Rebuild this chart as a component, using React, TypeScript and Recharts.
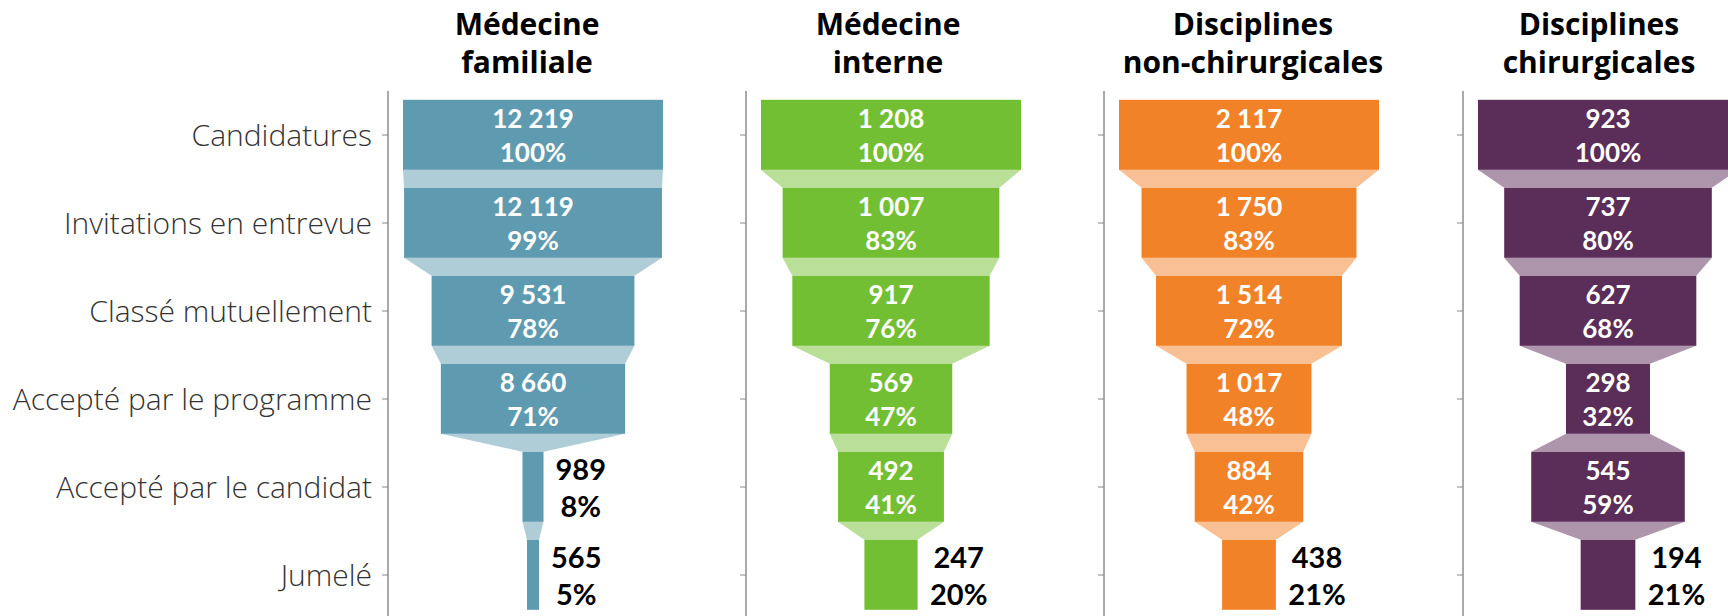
import React from 'react';
import { BarChart, Bar, XAxis, YAxis } from 'recharts';

const stages = [
  'Candidatures',
  'Invitations en entrevue',
  'Classé mutuellement',
  'Accepté par le programme',
  'Accepté par le candidat',
  'Jumelé',
];

const titles = [
  ['Médecine', 'familiale'],
  ['Médecine', 'interne'],
  ['Disciplines', 'non-chirurgicales'],
  ['Disciplines', 'chirurgicales'],
];

const familyMedicine = [12219, 12119, 9531, 8660, 989, 565];
const internalMedicine = [1208, 1007, 917, 569, 492, 247];
const nonSurgical = [2117, 1750, 1514, 1017, 884, 438];
const surgical = [923, 737, 627, 298, 545, 194];

const panelValues = [familyMedicine, internalMedicine, nonSurgical, surgical];
const panelColors = ['#5F9BB0', '#73BF34', '#F28227', '#5B2D59'];

// layout
const AXIS_X = [388, 746, 1104, 1463];
const TITLE_X = [527, 888, 1253, 1599];
const PLOT_TOP = 91;
const CHART_H = 620;
const BAND = (CHART_H - PLOT_TOP - 1) / stages.length;
const BAR_INSET = 15;
const BAR_MAX = 260;
const PLOT_W = BAR_MAX + 2 * BAR_INSET;
const FONT = 'Lato, "Open Sans", sans-serif';
const TITLE_FONT = '"Open Sans", Lato, sans-serif';

const fmt = (v: number) => String(v).replace(/\B(?=(\d{3})+(?!\d))/g, ' ');

function textWidth(s: string, size: number) {
  let w = 0;
  for (const c of s) w += c === ' ' ? 0.26 : c === '%' ? 0.85 : 0.58;
  return w * size;
}

function FunnelBar(props: any) {
  const { x, y, width, height, index, payload, color, values } = props;
  const cx = x + width / 2;
  const cy = y + height / 2;
  const next = values[index + 1];
  const pct = Math.round((payload.value / values[0]) * 100);
  const valStr = fmt(payload.value);
  const pctStr = `${pct}%`;

  let connector = null;
  if (next !== undefined) {
    const nw = (width * next) / payload.value;
    const pts = [
      [x, y + height],
      [x + width, y + height],
      [cx + nw / 2, y + BAND],
      [cx - nw / 2, y + BAND],
    ]
      .map((p) => p.join(','))
      .join(' ');
    connector = <polygon points={pts} fill={color} fillOpacity={0.5} />;
  }

  let label;
  if (pct >= 25) {
    label = (
      <g fill="#fff" fontFamily={FONT} fontWeight={700} fontSize={26} textAnchor="middle">
        <text x={cx} y={cy - 7}>{valStr}</text>
        <text x={cx} y={cy + 27}>{pctStr}</text>
      </g>
    );
  } else {
    const bw = Math.max(textWidth(valStr, 29), textWidth(pctStr, 29));
    const bx = x + width + 12 + bw / 2;
    label = (
      <g fill="#000" fontFamily={FONT} fontWeight={700} fontSize={29} textAnchor="middle">
        <text x={bx} y={cy - 7}>{valStr}</text>
        <text x={bx} y={cy + 30}>{pctStr}</text>
      </g>
    );
  }

  return (
    <g>
      {connector}
      <rect x={x} y={y} width={width} height={height} fill={color} />
      {label}
    </g>
  );
}

function Panel({ idx }: { idx: number }) {
  const values = panelValues[idx];
  const color = panelColors[idx];
  const max = values[0];
  const pad = (max * BAR_INSET) / BAR_MAX;
  const data = stages.map((stage, i) => ({
    stage,
    offset: (max - values[i]) / 2,
    value: values[i],
  }));
  const yw = idx === 0 ? AXIS_X[0] : 20;

  return (
    <div style={{ position: 'absolute', left: AXIS_X[idx] - yw, top: 0 }}>
      <BarChart
        width={yw + PLOT_W}
        height={CHART_H}
        data={data}
        layout="vertical"
        barCategoryGap="10%"
        margin={{ top: PLOT_TOP, right: 0, bottom: 1, left: 0 }}
      >
        <XAxis type="number" hide domain={[-pad, max + pad]} allowDataOverflow />
        <YAxis
          type="category"
          dataKey="stage"
          width={yw}
          interval={0}
          axisLine={{ stroke: '#555', strokeWidth: 1 }}
          tickLine={{ stroke: '#888' }}
          tickSize={6}
          tickMargin={10}
          tick={{ fill: '#333', fontSize: 30, fontFamily: TITLE_FONT, fontWeight: 300 }}
          tickFormatter={idx === 0 ? undefined : () => ''}
        />
        <Bar dataKey="offset" stackId="f" fill="transparent" isAnimationActive={false} />
        <Bar
          dataKey="value"
          stackId="f"
          isAnimationActive={false}
          shape={(p: any) => <FunnelBar {...p} color={color} values={values} />}
        />
      </BarChart>
    </div>
  );
}

export default function App() {
  return (
    <div
      style={{
        position: 'absolute',
        left: 0,
        top: 0,
        width: 1728,
        height: 616,
        overflow: 'hidden',
        background: '#fff',
      }}
    >
      {panelValues.map((_, i) => (
        <Panel key={i} idx={i} />
      ))}
      <svg width={1728} height={90} style={{ position: 'absolute', left: 0, top: 0 }}>
        {titles.map((t, i) => (
          <g key={i} fontFamily={TITLE_FONT} fontWeight={700} fontSize={30} textAnchor="middle" fill="#000">
            <text x={TITLE_X[i]} y={35}>{t[0]}</text>
            <text x={TITLE_X[i]} y={73}>{t[1]}</text>
          </g>
        ))}
      </svg>
    </div>
  );
}
